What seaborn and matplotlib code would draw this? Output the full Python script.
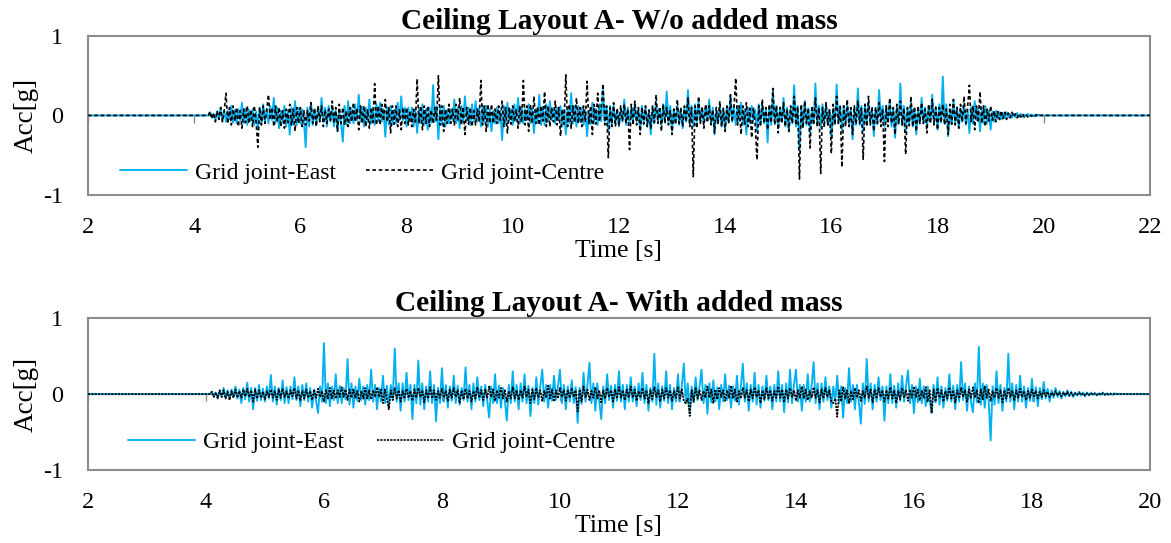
import numpy as np
import pandas as pd
import matplotlib
matplotlib.use("Agg")
import matplotlib.pyplot as plt
from matplotlib.lines import Line2D
import seaborn as sns

# ---- Recorded accelerations [g] ----
# Each record is stored as peak samples (one every 0.1 s) and the two
# samples that follow each peak (between1, between2), giving a 1/30 s step.

# Layout A without added mass (signal starts at 4.3 s)
top_start = 4.3
top_east_peaks = [
    0.04, -0.06, 0.10, -0.08, 0.12, -0.10, 0.16, -0.12, 0.08, -0.18,
    0.14, -0.10, 0.22, -0.16, 0.12, -0.24, 0.18, -0.10, -0.40, 0.16,
    -0.12, 0.22, -0.14, 0.10, -0.20, -0.33, 0.18, -0.10, 0.26, -0.14,
    0.20, -0.12, 0.16, -0.27, 0.12, -0.10, 0.24, -0.14, 0.10, -0.22,
    0.14, -0.18, 0.38, -0.30, 0.12, -0.10, 0.20, -0.16, 0.24, -0.12,
    0.18, -0.14, 0.12, -0.20, 0.10, -0.31, 0.16, -0.12, 0.22, -0.10,
    0.14, -0.22, 0.26, -0.12, 0.18, -0.10, 0.12, -0.24, 0.28, -0.14,
    0.10, -0.26, 0.16, -0.12, 0.32, -0.20, 0.12, -0.14, 0.20, -0.10,
    0.14, -0.18, 0.10, -0.24, 0.16, -0.12, 0.30, -0.20, 0.12, -0.16,
    0.32, -0.14, 0.18, -0.10, 0.20, -0.24, 0.12, -0.18, 0.26, -0.12,
    0.16, -0.24, 0.12, -0.20, 0.14, -0.34, 0.30, -0.16, 0.22, -0.20,
    0.38, -0.44, 0.18, -0.22, 0.40, -0.16, 0.14, -0.28, 0.39, -0.18,
    0.12, -0.30, 0.34, -0.20, 0.16, -0.26, 0.32, -0.14, 0.18, -0.28,
    0.40, -0.20, 0.16, -0.24, 0.22, -0.14, 0.26, -0.18, 0.49, -0.26,
    0.20, -0.16, 0.14, -0.22, 0.18, -0.20, 0.12, -0.18, 0.06, -0.05,
    0.04, -0.03, 0.03, -0.02, 0.02, -0.01, 0.01, 0.00,
]
top_east_between1 = [
    -0.03, 0.05, -0.07, 0.06, -0.09, 0.08, -0.10, 0.07, -0.12, 0.10,
    -0.08, 0.12, -0.10, 0.06, -0.14, 0.10, -0.12, 0.08, 0.10, -0.12,
    0.10, -0.08, 0.12, -0.14, 0.06, 0.12, -0.10, 0.14, -0.08, 0.10,
    -0.10, 0.14, -0.08, 0.10, -0.12, 0.16, -0.06, 0.10, -0.14, 0.08,
    -0.12, 0.10, -0.08, 0.12, -0.14, 0.08, -0.10, 0.12, -0.06, 0.14,
    -0.08, 0.12, -0.14, 0.06, -0.10, 0.12, -0.08, 0.14, -0.10, 0.08,
    -0.10, 0.08, -0.12, 0.14, -0.06, 0.10, -0.14, 0.08, -0.10, 0.12,
    -0.12, 0.06, -0.10, 0.14, -0.08, 0.12, -0.10, 0.06, -0.12, 0.10,
    -0.08, 0.12, -0.14, 0.10, -0.06, 0.14, -0.10, 0.08, -0.12, 0.10,
    -0.10, 0.14, -0.08, 0.12, -0.10, 0.06, -0.14, 0.10, -0.08, 0.12,
    -0.12, 0.10, -0.06, 0.14, -0.10, 0.12, -0.08, 0.10, -0.14, 0.08,
    -0.14, 0.10, -0.12, 0.08, -0.10, 0.14, -0.12, 0.06, -0.10, 0.12,
    -0.10, 0.08, -0.12, 0.14, -0.08, 0.10, -0.06, 0.12, -0.14, 0.10,
    -0.12, 0.10, -0.14, 0.08, -0.10, 0.12, -0.08, 0.14, -0.10, 0.06,
    -0.10, 0.08, -0.12, 0.10, -0.06, 0.08, -0.10, 0.05, -0.04, 0.03,
    -0.02, 0.02, -0.02, 0.01, -0.01, 0.01, 0.00, 0.00,
]
top_east_between2 = [
    0.02, -0.04, 0.06, -0.05, 0.07, -0.06, 0.09, -0.07, 0.05, -0.10,
    0.08, -0.06, 0.10, -0.08, 0.07, -0.12, 0.09, -0.06, -0.14, 0.08,
    -0.07, 0.10, -0.08, 0.06, -0.10, -0.12, 0.09, -0.06, 0.11, -0.08,
    0.10, -0.07, 0.08, -0.12, 0.07, -0.06, 0.10, -0.08, 0.06, -0.10,
    0.08, -0.09, 0.12, -0.12, 0.07, -0.06, 0.10, -0.08, 0.10, -0.07,
    0.09, -0.08, 0.07, -0.10, 0.06, -0.12, 0.08, -0.07, 0.10, -0.06,
    0.08, -0.10, 0.11, -0.07, 0.09, -0.06, 0.07, -0.10, 0.12, -0.08,
    0.06, -0.11, 0.08, -0.07, 0.12, -0.10, 0.07, -0.08, 0.10, -0.06,
    0.08, -0.09, 0.06, -0.10, 0.08, -0.07, 0.12, -0.10, 0.07, -0.08,
    0.12, -0.08, 0.09, -0.06, 0.10, -0.10, 0.07, -0.09, 0.11, -0.07,
    0.08, -0.10, 0.07, -0.10, 0.08, -0.12, 0.12, -0.08, 0.10, -0.10,
    0.12, -0.14, 0.09, -0.10, 0.12, -0.08, 0.07, -0.11, 0.12, -0.09,
    0.07, -0.12, 0.12, -0.10, 0.08, -0.11, 0.12, -0.08, 0.09, -0.11,
    0.12, -0.10, 0.08, -0.10, 0.10, -0.08, 0.11, -0.09, 0.14, -0.11,
    0.10, -0.08, 0.07, -0.10, 0.09, -0.10, 0.06, -0.08, 0.04, -0.03,
    0.02, -0.02, 0.02, -0.01, 0.01, -0.01, 0.00, 0.00,
]
top_centre_peaks = [
    0.05, -0.08, 0.10, 0.28, -0.12, 0.10, -0.16, 0.12, -0.14, -0.40,
    0.12, 0.26, -0.14, 0.10, -0.16, 0.14, -0.20, 0.10, -0.12, 0.16,
    -0.14, 0.12, -0.10, 0.18, -0.20, 0.10, -0.14, 0.16, -0.18, 0.12,
    -0.16, 0.40, -0.12, 0.20, -0.22, 0.12, -0.18, 0.10, -0.14, 0.46,
    -0.18, 0.12, -0.10, 0.50, -0.20, 0.14, -0.12, 0.22, -0.24, 0.10,
    -0.12, 0.44, -0.20, 0.14, -0.10, 0.18, -0.22, 0.12, -0.16, 0.44,
    -0.20, 0.24, -0.12, 0.30, -0.14, 0.18, -0.26, 0.51, -0.16, 0.22,
    -0.14, 0.43, -0.24, 0.28, 0.40, -0.53, 0.16, -0.12, 0.14, -0.43,
    0.18, -0.24, 0.12, -0.16, 0.26, -0.20, 0.10, -0.24, 0.20, -0.14,
    0.22, -0.77, 0.24, -0.16, 0.12, -0.22, 0.18, -0.20, 0.26, 0.47,
    -0.24, 0.16, -0.28, -0.56, 0.20, -0.18, 0.34, -0.22, 0.16, -0.20,
    0.24, -0.80, 0.18, -0.41, 0.22, -0.73, 0.16, -0.48, 0.24, -0.65,
    0.20, -0.24, 0.18, -0.55, 0.24, -0.20, 0.16, -0.58, 0.22, -0.24,
    0.18, -0.49, 0.24, -0.20, 0.16, -0.22, 0.20, -0.18, 0.14, -0.24,
    0.20, -0.16, 0.24, 0.38, -0.18, 0.30, -0.14, 0.12, -0.08, 0.06,
    -0.05, 0.04, -0.03, 0.02, -0.02, 0.01, -0.01, 0.00,
]
top_centre_between1 = [
    -0.04, 0.06, -0.08, -0.10, 0.12, -0.14, 0.08, -0.10, 0.12, 0.10,
    -0.10, -0.06, 0.12, -0.14, 0.08, -0.12, 0.10, -0.14, 0.06, -0.10,
    0.12, -0.14, 0.08, -0.10, 0.14, -0.12, 0.10, -0.08, 0.12, -0.14,
    0.10, -0.12, 0.14, -0.08, 0.12, -0.14, 0.10, -0.12, 0.08, -0.10,
    0.12, -0.14, 0.10, -0.12, 0.08, -0.10, 0.14, -0.12, 0.10, -0.14,
    0.08, -0.12, 0.14, -0.10, 0.12, -0.14, 0.10, -0.08, 0.12, -0.12,
    0.14, -0.10, 0.12, -0.14, 0.10, -0.12, 0.08, -0.14, 0.12, -0.10,
    0.12, -0.10, 0.14, -0.08, -0.12, 0.10, -0.14, 0.12, -0.10, 0.14,
    -0.12, 0.10, -0.14, 0.12, -0.10, 0.14, -0.12, 0.08, -0.10, 0.12,
    -0.14, 0.12, -0.10, 0.14, -0.12, 0.10, -0.14, 0.12, -0.08, -0.12,
    0.12, -0.14, 0.10, 0.12, -0.10, 0.14, -0.12, 0.10, -0.14, 0.12,
    -0.12, 0.14, -0.10, 0.12, -0.14, 0.10, -0.12, 0.14, -0.10, 0.12,
    -0.14, 0.12, -0.10, 0.14, -0.12, 0.10, -0.14, 0.12, -0.10, 0.14,
    -0.12, 0.10, -0.14, 0.12, -0.10, 0.14, -0.12, 0.10, -0.12, 0.14,
    -0.12, 0.14, -0.10, -0.08, 0.12, -0.10, 0.08, -0.06, 0.05, -0.04,
    0.03, -0.02, 0.02, -0.02, 0.01, -0.01, 0.00, 0.00,
]
top_centre_between2 = [
    0.03, -0.05, 0.06, 0.10, -0.07, 0.06, -0.09, 0.07, -0.08, -0.12,
    0.07, 0.10, -0.08, 0.06, -0.09, 0.08, -0.10, 0.06, -0.07, 0.09,
    -0.08, 0.07, -0.06, 0.10, -0.10, 0.06, -0.08, 0.09, -0.10, 0.07,
    -0.09, 0.12, -0.07, 0.10, -0.11, 0.07, -0.10, 0.06, -0.08, 0.12,
    -0.10, 0.07, -0.06, 0.12, -0.10, 0.08, -0.07, 0.11, -0.11, 0.06,
    -0.07, 0.12, -0.10, 0.08, -0.06, 0.10, -0.11, 0.07, -0.09, 0.12,
    -0.10, 0.11, -0.07, 0.12, -0.08, 0.10, -0.11, 0.14, -0.09, 0.10,
    -0.08, 0.12, -0.11, 0.12, 0.12, -0.14, 0.09, -0.07, 0.08, -0.12,
    0.10, -0.11, 0.07, -0.09, 0.11, -0.10, 0.06, -0.11, 0.10, -0.08,
    0.10, -0.16, 0.11, -0.09, 0.07, -0.10, 0.09, -0.10, 0.11, 0.12,
    -0.11, 0.09, -0.12, -0.14, 0.10, -0.09, 0.12, -0.10, 0.08, -0.10,
    0.11, -0.16, 0.09, -0.12, 0.10, -0.15, 0.08, -0.12, 0.11, -0.14,
    0.10, -0.11, 0.09, -0.14, 0.11, -0.10, 0.08, -0.14, 0.10, -0.11,
    0.09, -0.13, 0.11, -0.10, 0.08, -0.10, 0.10, -0.09, 0.08, -0.11,
    0.10, -0.08, 0.11, 0.12, -0.09, 0.12, -0.07, 0.06, -0.05, 0.04,
    -0.03, 0.02, -0.02, 0.01, -0.01, 0.01, 0.00, 0.00,
]

# Layout A with added mass (signal starts at 4.1 s)
bot_start = 4.1
bot_east_peaks = [
    0.03, -0.05, 0.08, -0.06, 0.10, -0.12, 0.15, -0.20, 0.12, -0.10,
    0.25, -0.14, 0.18, -0.12, 0.22, -0.16, 0.14, -0.18, -0.25, 0.67,
    -0.16, 0.26, -0.12, 0.46, -0.18, 0.20, -0.14, 0.32, -0.20, 0.24,
    -0.16, 0.60, -0.22, 0.28, -0.33, 0.44, -0.20, 0.30, -0.36, 0.34,
    -0.18, 0.24, -0.14, 0.35, -0.20, 0.22, -0.16, -0.31, 0.26, -0.18,
    -0.35, 0.30, -0.20, 0.26, -0.29, 0.22, 0.32, -0.18, 0.24, 0.32,
    -0.20, 0.18, -0.38, 0.28, 0.41, -0.22, -0.33, 0.26, -0.18, 0.30,
    -0.20, 0.22, -0.16, 0.28, -0.22, 0.53, -0.18, 0.30, -0.20, 0.26,
    0.40, -0.24, 0.22, 0.32, -0.26, 0.18, -0.20, 0.26, -0.18, 0.24,
    0.40, -0.22, 0.28, -0.18, 0.24, -0.20, 0.30, -0.24, 0.32, 0.32,
    -0.22, 0.26, 0.42, -0.20, 0.22, -0.18, 0.24, -0.31, 0.34, -0.20,
    -0.39, 0.46, -0.20, 0.22, -0.35, 0.26, -0.18, 0.24, 0.31, -0.25,
    0.20, -0.16, -0.25, 0.22, -0.18, 0.26, -0.20, 0.42, -0.22, -0.24,
    0.62, -0.18, -0.61, 0.30, -0.22, 0.53, -0.20, 0.24, -0.18, 0.20,
    -0.16, 0.16, -0.10, 0.08, -0.06, 0.05, -0.04, 0.03, -0.03, 0.02,
    -0.02, 0.02, -0.01, 0.01,
]
bot_east_between1 = [
    -0.03, 0.04, -0.05, 0.06, -0.06, 0.08, -0.10, 0.08, -0.08, 0.10,
    -0.10, 0.08, -0.12, 0.10, -0.08, 0.12, -0.10, 0.06, 0.10, -0.12,
    0.10, -0.12, 0.08, -0.14, 0.10, -0.08, 0.12, -0.10, 0.08, -0.12,
    0.12, -0.10, 0.14, -0.08, 0.12, -0.14, 0.10, -0.12, 0.08, -0.10,
    0.10, -0.12, 0.08, -0.10, 0.14, -0.08, 0.12, 0.10, -0.12, 0.08,
    0.12, -0.10, 0.14, -0.12, 0.08, -0.14, -0.10, 0.12, -0.08, -0.12,
    0.10, -0.12, 0.08, -0.10, -0.12, 0.14, 0.10, -0.08, 0.12, -0.10,
    0.12, -0.10, 0.14, -0.12, 0.08, -0.14, 0.10, -0.12, 0.08, -0.10,
    -0.12, 0.10, -0.08, -0.12, 0.14, -0.10, 0.12, -0.08, 0.10, -0.14,
    -0.10, 0.12, -0.14, 0.10, -0.08, 0.12, -0.10, 0.14, -0.12, -0.10,
    0.12, -0.10, -0.12, 0.14, -0.08, 0.10, -0.12, 0.08, -0.10, 0.12,
    0.14, -0.10, 0.12, -0.08, 0.10, -0.12, 0.14, -0.10, -0.12, 0.10,
    -0.12, 0.10, 0.12, -0.14, 0.08, -0.10, 0.12, -0.08, 0.10, 0.14,
    -0.14, 0.12, 0.10, -0.12, 0.08, -0.10, 0.12, -0.10, 0.08, -0.10,
    0.08, -0.06, 0.05, -0.04, 0.03, -0.03, 0.02, -0.02, 0.02, -0.01,
    0.01, -0.01, 0.01, 0.00,
]
bot_east_between2 = [
    0.02, -0.03, 0.05, -0.04, 0.06, -0.07, 0.08, -0.09, 0.07, -0.06,
    0.10, -0.08, 0.09, -0.07, 0.10, -0.08, 0.08, -0.09, -0.10, 0.14,
    -0.08, 0.11, -0.07, 0.14, -0.09, 0.10, -0.08, 0.12, -0.10, 0.11,
    -0.08, 0.14, -0.10, 0.12, -0.12, 0.14, -0.10, 0.12, -0.12, 0.12,
    -0.09, 0.11, -0.08, 0.12, -0.10, 0.10, -0.08, -0.12, 0.11, -0.09,
    -0.12, 0.12, -0.10, 0.11, -0.12, 0.10, 0.12, -0.09, 0.10, 0.12,
    -0.10, 0.09, -0.13, 0.12, 0.14, -0.10, -0.12, 0.11, -0.09, 0.12,
    -0.10, 0.10, -0.08, 0.12, -0.10, 0.14, -0.09, 0.12, -0.10, 0.11,
    0.14, -0.11, 0.10, 0.12, -0.11, 0.09, -0.10, 0.11, -0.09, 0.10,
    0.14, -0.10, 0.12, -0.09, 0.10, -0.10, 0.12, -0.11, 0.12, 0.12,
    -0.10, 0.11, 0.14, -0.10, 0.10, -0.09, 0.10, -0.12, 0.12, -0.10,
    -0.13, 0.14, -0.10, 0.10, -0.12, 0.11, -0.09, 0.10, 0.12, -0.11,
    0.10, -0.08, -0.11, 0.10, -0.09, 0.11, -0.10, 0.14, -0.10, -0.11,
    0.14, -0.09, -0.14, 0.12, -0.10, 0.14, -0.10, 0.10, -0.09, 0.09,
    -0.07, 0.07, -0.05, 0.04, -0.03, 0.03, -0.02, 0.02, -0.02, 0.01,
    -0.01, 0.01, -0.01, 0.00,
]
bot_centre_peaks = [
    0.03, -0.06, 0.05, -0.08, 0.06, -0.05, 0.07, -0.10, 0.05, -0.07,
    0.06, -0.08, 0.07, -0.06, 0.08, -0.09, 0.06, -0.08, 0.07, -0.10,
    0.08, -0.06, 0.09, -0.08, 0.06, -0.10, 0.08, -0.07, 0.09, -0.12,
    -0.20, 0.08, -0.10, 0.07, -0.09, 0.08, -0.11, 0.09, -0.08, 0.07,
    -0.09, 0.08, -0.12, 0.07, -0.10, 0.09, -0.08, 0.10, -0.09, 0.08,
    -0.10, 0.09, -0.08, 0.10, -0.12, 0.08, -0.09, 0.11, -0.10, 0.08,
    -0.09, 0.08, -0.23, 0.10, -0.08, 0.09, -0.11, 0.08, -0.10, 0.09,
    -0.08, 0.10, -0.09, 0.08, -0.12, 0.09, -0.10, 0.08, -0.09, 0.10,
    -0.10, -0.29, 0.09, -0.08, 0.10, -0.12, 0.08, -0.09, 0.11, -0.10,
    0.08, -0.10, 0.09, -0.12, 0.08, -0.09, 0.10, -0.11, 0.08, -0.09,
    0.10, -0.08, 0.09, -0.11, 0.08, -0.10, -0.30, 0.09, -0.12, 0.08,
    -0.09, 0.10, -0.11, 0.08, -0.10, 0.09, -0.12, 0.08, -0.09, 0.10,
    -0.08, 0.09, -0.25, 0.08, -0.10, 0.09, -0.11, 0.08, -0.10, 0.09,
    -0.12, 0.10, -0.09, 0.08, -0.11, 0.08, -0.09, 0.07, -0.08, 0.06,
    -0.06, 0.05, -0.04, 0.04, -0.03, 0.03, -0.02, 0.02, -0.02, 0.01,
    -0.01, 0.01, -0.01, 0.00,
]
bot_centre_between1 = [
    -0.04, 0.05, -0.06, 0.04, -0.05, 0.06, -0.04, 0.06, -0.05, 0.04,
    -0.05, 0.06, -0.04, 0.05, -0.06, 0.04, -0.05, 0.06, -0.04, 0.05,
    -0.06, 0.05, -0.04, 0.06, -0.05, 0.04, -0.06, 0.05, -0.04, 0.06,
    0.05, -0.06, 0.04, -0.05, 0.06, -0.04, 0.05, -0.06, 0.04, -0.05,
    0.06, -0.04, 0.05, -0.06, 0.04, -0.05, 0.06, -0.04, 0.05, -0.06,
    0.04, -0.06, 0.05, -0.04, 0.06, -0.05, 0.04, -0.06, 0.05, -0.04,
    0.05, -0.04, 0.06, -0.05, 0.04, -0.06, 0.05, -0.04, 0.06, -0.05,
    0.06, -0.05, 0.04, -0.06, 0.05, -0.04, 0.06, -0.05, 0.04, -0.06,
    -0.12, 0.05, -0.06, 0.04, -0.05, 0.06, -0.04, 0.05, -0.06, 0.04,
    -0.05, 0.06, -0.04, 0.05, -0.06, 0.04, -0.05, 0.06, -0.04, 0.05,
    -0.06, 0.04, -0.05, 0.06, -0.04, -0.12, 0.05, -0.06, 0.04, -0.05,
    0.04, -0.05, 0.06, -0.04, 0.05, -0.06, 0.04, -0.05, 0.06, -0.04,
    0.05, -0.10, 0.06, -0.05, 0.04, -0.06, 0.05, -0.04, 0.06, -0.05,
    0.06, -0.05, 0.04, -0.06, 0.05, -0.04, 0.05, -0.04, 0.04, -0.03,
    0.03, -0.03, 0.02, -0.02, 0.02, -0.02, 0.01, -0.01, 0.01, -0.01,
    0.01, -0.01, 0.00, 0.00,
]
bot_centre_between2 = [
    0.02, -0.04, 0.03, -0.05, 0.04, -0.03, 0.05, -0.06, 0.03, -0.04,
    0.04, -0.05, 0.04, -0.03, 0.05, -0.06, 0.04, -0.05, 0.04, -0.06,
    0.05, -0.04, 0.06, -0.05, 0.04, -0.06, 0.05, -0.04, 0.06, -0.07,
    -0.08, 0.05, -0.06, 0.04, -0.05, 0.05, -0.06, 0.05, -0.05, 0.04,
    -0.05, 0.05, -0.07, 0.04, -0.06, 0.05, -0.05, 0.06, -0.05, 0.05,
    -0.06, 0.05, -0.05, 0.06, -0.07, 0.05, -0.05, 0.06, -0.06, 0.05,
    -0.05, 0.05, -0.10, 0.06, -0.05, 0.05, -0.06, 0.05, -0.06, 0.05,
    -0.05, 0.06, -0.05, 0.05, -0.07, 0.05, -0.06, 0.05, -0.05, 0.06,
    -0.06, -0.10, 0.05, -0.05, 0.06, -0.07, 0.05, -0.05, 0.06, -0.06,
    0.05, -0.06, 0.05, -0.07, 0.05, -0.05, 0.06, -0.06, 0.05, -0.05,
    0.06, -0.05, 0.05, -0.06, 0.05, -0.06, -0.10, 0.05, -0.07, 0.05,
    -0.05, 0.06, -0.06, 0.05, -0.06, 0.05, -0.07, 0.05, -0.05, 0.06,
    -0.05, 0.05, -0.10, 0.05, -0.06, 0.05, -0.06, 0.05, -0.06, 0.05,
    -0.07, 0.06, -0.05, 0.05, -0.06, 0.05, -0.05, 0.04, -0.05, 0.04,
    -0.04, 0.03, -0.02, 0.02, -0.02, 0.02, -0.01, 0.01, -0.01, 0.01,
    -0.01, 0.01, 0.00, 0.00,
]

peak_dt = 0.1
top_xticks = [2, 4, 6, 8, 10, 12, 14, 16, 18, 20, 22]
bot_xticks = [2, 4, 6, 8, 10, 12, 14, 16, 18, 20]
yticks = [-1, 0, 1]
titles = ["Ceiling Layout A- W/o added mass", "Ceiling Layout A- With added mass"]
series_names = ["Grid joint-East", "Grid joint-Centre"]

EAST_COLOR = "#00B0F0"
CENTRE_COLOR = "#000000"
FRAME_COLOR = "#8C8C8C"


def record(peaks, between1, between2, start, xmin, xmax):
    """Full time history (1/30 s step) padded with the quiet zero record."""
    vals = np.column_stack([np.asarray(peaks, dtype=float),
                            np.asarray(between1, dtype=float),
                            np.asarray(between2, dtype=float)]).ravel()
    step = peak_dt / 3
    t = start + step * np.arange(len(vals))
    t = np.concatenate([[xmin, start - step], t, [t[-1] + step, xmax]])
    a = np.concatenate([[0.0, 0.0], vals, [0.0, 0.0]])
    return pd.DataFrame({"Time": t, "Acc": a})


sns.set_style("white")
plt.rcParams["font.family"] = ["Liberation Serif", "DejaVu Serif"]
plt.rcParams.update({
    "text.color": "black",
    "axes.labelcolor": "black",
    "axes.titlecolor": "black",
    "xtick.color": "black",
    "ytick.color": "black",
    "xtick.labelcolor": "black",
    "ytick.labelcolor": "black",
})
FS_TICK = 17.5
FS_LEG = 17
FS_XLAB = 18.5
FS_YLAB = 19.5
FS_TITLE = 21.2

fig = plt.figure(figsize=(11.71, 5.43), dpi=100)
ax_top = fig.add_axes([0.0751, 0.641, 0.9069, 0.2928])
ax_bot = fig.add_axes([0.0751, 0.1344, 0.9069, 0.2799])

panels = [
    (ax_top,
     (top_east_peaks, top_east_between1, top_east_between2),
     (top_centre_peaks, top_centre_between1, top_centre_between2),
     top_start, top_xticks, (2.2, 1.6), (0.030, 0.138), 1.25, titles[0]),
    (ax_bot,
     (bot_east_peaks, bot_east_between1, bot_east_between2),
     (bot_centre_peaks, bot_centre_between1, bot_centre_between2),
     bot_start, bot_xticks, (1.3, 0.7), (0.0377, 0.184), 1.38, titles[1]),
]

for ax, east, centre, start, xt, dash, leg_pos, colsp, title in panels:
    xmin, xmax = xt[0], xt[-1]
    # horizontal axis at zero with its small tick marks
    ax.axhline(0, color=FRAME_COLOR, lw=1.0, zorder=1)
    ax.vlines(xt, -0.09, 0, color=FRAME_COLOR, lw=1.0, zorder=1)

    sns.lineplot(data=record(*east, start, xmin, xmax), x="Time", y="Acc",
                 ax=ax, color=EAST_COLOR, lw=1.35, estimator=None, sort=False,
                 zorder=2)
    sns.lineplot(data=record(*centre, start, xmin, xmax), x="Time", y="Acc",
                 ax=ax, color=CENTRE_COLOR, lw=1.2, estimator=None, sort=False,
                 zorder=3)
    ax.lines[-1].set_dashes(dash)

    ax.set_xlim(xmin, xmax)
    ax.set_ylim(-1, 1)
    ax.set_xticks(xt)
    ax.set_yticks(yticks)
    ax.set_xticklabels([str(v) for v in xt], fontsize=FS_TICK, color="black")
    ax.set_yticklabels([str(v) for v in yticks], fontsize=FS_TICK, color="black")
    ax.tick_params(axis="both", length=0)
    ax.tick_params(axis="x", pad=16)
    ax.tick_params(axis="y", pad=18)
    ax.set_xlabel("Time [s]", fontsize=FS_XLAB, labelpad=1, color="black")
    ax.set_ylabel("Acc[g]", fontsize=FS_YLAB, labelpad=3, color="black")
    ax.set_title(title, fontsize=FS_TITLE, fontweight="bold", pad=5,
                 color="black")
    for sp in ax.spines.values():
        sp.set_color(FRAME_COLOR)
        sp.set_linewidth(1.5)

    handles = [
        Line2D([], [], color=EAST_COLOR, lw=1.35),
        Line2D([], [], color=CENTRE_COLOR, lw=1.2, dashes=dash),
    ]
    leg = ax.legend(handles, series_names, loc="center left",
                    bbox_to_anchor=leg_pos, ncol=2, frameon=False,
                    fontsize=FS_LEG, borderpad=0, borderaxespad=0,
                    handlelength=2.85, handletextpad=0.34, columnspacing=colsp)
    for txt in leg.get_texts():
        txt.set_color("black")

fig.savefig("out.png", dpi=100)
